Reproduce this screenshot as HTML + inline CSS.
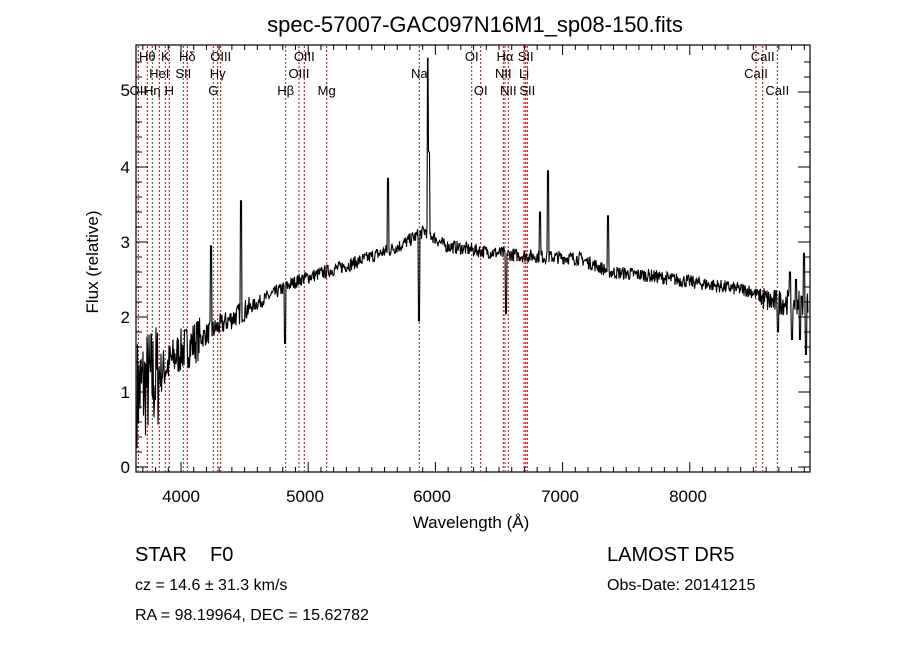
<!DOCTYPE html>
<html><head><meta charset="utf-8"><style>
html,body{margin:0;padding:0;background:#fff;}
svg{display:block;font-family:"Liberation Sans",sans-serif;}
</style></head><body>
<svg id="s" width="900" height="649" viewBox="0 0 900 649" xmlns="http://www.w3.org/2000/svg">
<rect width="900" height="649" fill="#fff"/>
<text x="475" y="32" font-size="22" text-anchor="middle" fill="#000">spec-57007-GAC097N16M1_sp08-150.fits</text>
<g id="lines"></g>
<g id="labels" font-size="13" fill="#000"></g>
<polyline id="spec" fill="none" stroke="#000" stroke-width="1.1"/>
<rect x="136" y="45" width="674" height="427" fill="none" stroke="#000" stroke-width="1.2"/>
<g id="ticks" stroke="#000" stroke-width="1"></g>
<g font-size="17" fill="#000" text-anchor="middle">
<text x="181" y="502">4000</text><text x="305" y="502">5000</text><text x="432" y="502">6000</text><text x="560" y="502">7000</text><text x="688" y="502">8000</text>
<text x="471" y="528">Wavelength (Å)</text>
</g>
<g font-size="17" fill="#000" text-anchor="end">
<text x="130" y="473">0</text><text x="130" y="398">1</text><text x="130" y="323">2</text><text x="130" y="248">3</text><text x="130" y="173">4</text><text x="130" y="96">5</text>
</g>
<text transform="translate(98,262) rotate(-90)" font-size="17" text-anchor="middle" fill="#000">Flux (relative)</text>
<g font-size="20" fill="#000">
<text x="135" y="561">STAR</text><text x="210" y="561">F0</text>
<text x="607" y="561">LAMOST DR5</text>
</g>
<g font-size="16" fill="#000">
<text x="135" y="590">cz = 14.6 ± 31.3 km/s</text>
<text x="607" y="590">Obs-Date: 20141215</text>
<text x="135" y="620">RA =  98.19964, DEC =  15.62782</text>
</g>
</svg>
<script>
var NS="http://www.w3.org/2000/svg";
function X(l){return 181+(l-4000)*0.1272;}
function Y(f){return 467-75*f;}
function el(p,t,a,txt){var e=document.createElementNS(NS,t);for(var k in a)e.setAttribute(k,a[k]);if(txt)e.textContent=txt;document.getElementById(p).appendChild(e);}
var L=[[138.3,"OII",2,1],[147.3,"Hθ",0,1],[152.3,"Hη",2,0],[159.3,"HeI",1,1],[165.3,"K",0,0],[169.3,"H",2,1],[183.3,"SII",1,0],[187.3,"Hδ",0,1],[213.3,"G",2,0],[217.7,"Hγ",1,1],[220.7,"OIII",0,1],[285.7,"Hβ",2,0],[299,"OIII",1,1],[304.3,"OIII",0,1],[326.7,"Mg",2,1],[419.3,"Na",1,0],[471.7,"OI",0,0],[480.7,"OI",2,1],[503.3,"NII",1,1],[505,"Hα",0,0],[508.3,"NII",2,1],[524,"Li",1,1],[525.7,"SII",0,1],[527.3,"SII",2,1],[756,"CaII",1,1],[762.7,"CaII",0,1],[777.3,"CaII",2,0]];
L.forEach(function(d){var x=d[0];el("lines","line",{x1:x,x2:x,y1:46,y2:471,stroke:d[3]?"#b00":"#444","stroke-width":1,"stroke-dasharray":"2,2"});
el("labels","text",{x:x,y:61+d[2]*17,"text-anchor":"middle"},d[1]);});
for(var l=3700;l<=8900;l+=100){var x=X(l),big=l%1000==0,len=big?10:5;el("ticks","line",{x1:x,x2:x,y1:472,y2:472-len});el("ticks","line",{x1:x,x2:x,y1:45,y2:45+len});}
for(var f=0;f<=5.5;f+=0.2){var y=Y(f),big=Math.abs(f-Math.round(f))<0.01,len=big?12:6;el("ticks","line",{x1:136,x2:136+len,y1:y,y2:y});el("ticks","line",{x1:810,x2:810-len,y1:y,y2:y});}
var seed=7;function r(){seed=(seed*16807)%2147483647;return seed/2147483647;}
var C=[[137,1.0],[160,1.25],[181,1.55],[210,1.8],[240,2.05],[285,2.4],[300,2.5],[350,2.7],[400,2.95],[425,3.15],[445,2.95],[480,2.88],[520,2.82],[580,2.78],[610,2.6],[650,2.55],[700,2.45],[750,2.35],[770,2.2],[808,2.2]];
function cont(x){for(var i=0;i<C.length-1;i++)if(x<=C[i+1][0]){var t=(x-C[i][0])/(C[i+1][0]-C[i][0]);return C[i][1]+t*(C[i+1][1]-C[i][1]);}return 2.2;}
var S={211:2.95,241:3.55,285:1.65,388:3.85,419:1.95,428:5.45,429:4.2,506:2.05,540:3.4,548:3.95,608:3.35,778:1.8,790:2.6,792:1.7,796:2.5,800:1.7,804:2.85,806:1.5};
var pts=[];
for(var x=137;x<=808;x+=0.5){var c=cont(x),n;
if(x<160)n=(r()-0.5)*1.5;else if(x<200)n=(r()-0.5)*0.6;else if(x<250)n=(r()-0.5)*0.3;else if(x>760)n=(r()-0.5)*0.35;else n=(r()-0.5)*0.18;
var f=c+n;for(var k in S){if(Math.abs(x-k)<0.6)f=S[k];}
if(f<0.02)f=0.02;pts.push(x.toFixed(1)+","+Y(f).toFixed(1));}
document.getElementById("spec").setAttribute("points",pts.join(" "));
</script>
</body></html>
